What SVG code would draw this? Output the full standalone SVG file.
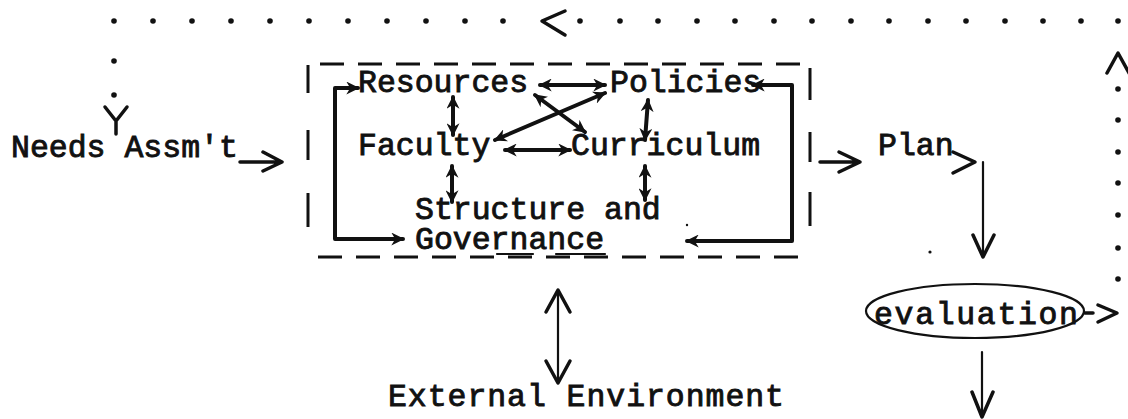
<svg xmlns="http://www.w3.org/2000/svg" width="1128" height="419" viewBox="0 0 1128 419">
  <style>
    .t { font-family: "Liberation Mono", "Courier New", monospace; font-size: 31.5px; fill: #111; stroke: #111; stroke-width: 0.9px; }
    .dot { fill: #111; }
    .box { stroke: #111; stroke-width: 3; fill: none; }
    .dash { stroke: #111; stroke-width: 3; fill: none; stroke-dasharray: 24 14; }
    .bold { stroke: #111; stroke-width: 4; fill: none; stroke-linecap: round; stroke-linejoin: round; }
    .thin { stroke: #111; stroke-width: 2.2; fill: none; stroke-linecap: round; stroke-linejoin: round; }
    .chev { stroke: #111; stroke-width: 3.5; fill: none; stroke-linecap: round; stroke-linejoin: round; }
  </style>
  <defs>
    <marker id="hd" viewBox="0 0 10 10" refX="9" refY="5" markerWidth="13" markerHeight="13" markerUnits="userSpaceOnUse" orient="auto-start-reverse">
      <path d="M0,0 L10,5 L0,10 L3,5 Z" fill="#111"/>
    </marker>
  </defs>

  <!-- dotted feedback loop from evaluation back to the needs assessment -->
  <g id="feedback">
    <g class="dot">
      <circle cx="114" cy="21" r="2.8"/><circle cx="153" cy="21" r="2.8"/><circle cx="192" cy="21" r="2.8"/>
      <circle cx="231" cy="21" r="2.8"/><circle cx="270" cy="21" r="2.8"/><circle cx="309" cy="21" r="2.8"/>
      <circle cx="348" cy="21" r="2.8"/><circle cx="387" cy="21" r="2.8"/><circle cx="426" cy="21" r="2.8"/>
      <circle cx="465" cy="21" r="2.8"/><circle cx="503" cy="21" r="2.8"/>
      <circle cx="580" cy="21" r="2.8"/><circle cx="620" cy="21" r="2.8"/><circle cx="658" cy="21" r="2.8"/>
      <circle cx="697" cy="21" r="2.8"/><circle cx="735" cy="21" r="2.8"/><circle cx="774" cy="21" r="2.8"/>
      <circle cx="812" cy="21" r="2.8"/><circle cx="851" cy="21" r="2.8"/><circle cx="889" cy="21" r="2.8"/>
      <circle cx="928" cy="21" r="2.8"/><circle cx="966" cy="21" r="2.8"/><circle cx="1005" cy="21" r="2.8"/>
      <circle cx="1043" cy="21" r="2.8"/><circle cx="1081" cy="21" r="2.8"/><circle cx="1118" cy="21" r="2.8"/>
      <circle cx="114" cy="61" r="2.8"/><circle cx="114" cy="95" r="2.8"/>
      <circle cx="1118" cy="89" r="2.8"/><circle cx="1118" cy="120" r="2.8"/><circle cx="1118" cy="152" r="2.8"/>
      <circle cx="1118" cy="183" r="2.8"/><circle cx="1118" cy="215" r="2.8"/><circle cx="1118" cy="248" r="2.8"/>
      <circle cx="1118" cy="279" r="2.8"/>
    </g>
    <path class="chev" d="M565,11 L542,21 L565,35"/>
    <path class="chev" d="M1107,73 L1118,53 L1129,73"/>
    <path class="chev" d="M105,107 L116,121 L127,107 M116,121 L116,134"/>
    <path class="chev" d="M1085,313 L1093,313 M1098,305 L1117,313 L1098,322"/>
  </g>

  <g id="needs">
    <text class="t" x="11" y="157">Needs Assm't</text>
  </g>

  <!-- dashed boundary of the core system -->
  <g id="system">
    <line class="dash" x1="320" y1="64" x2="803" y2="64"/>
    <line class="dash" x1="318" y1="257" x2="803" y2="257"/>
    <path class="box" d="M308,65 V93 M308,130 V160 M308,193 V227"/>
    <path class="box" d="M810,68 V100 M810,132 V162 M810,192 V226"/>
  </g>

  <g id="resources"><text class="t" x="358" y="92">Resources</text></g>
  <g id="policies"><text class="t" x="610" y="92">Policies</text></g>
  <g id="faculty"><text class="t" x="358" y="155">Faculty</text></g>
  <g id="curriculum"><text class="t" x="571" y="155">Curriculum</text></g>
  <g id="structure">
    <text class="t" x="415" y="219">Structure and<tspan x="415" y="249">Governance</tspan></text>
    <path class="thin" d="M497,254 H533 M556,254 H605"/>
  </g>
  <g id="plan"><text class="t" x="878" y="155">Plan</text></g>
  <g id="evaluation">
    <ellipse cx="975" cy="311" rx="109" ry="27" class="thin"/>
    <text class="t" x="874" y="324" textLength="204">evaluation</text>
  </g>
  <g id="external"><text class="t" x="388" y="406" textLength="396">External Environment</text></g>

  <g id="connectors">
    <!-- links inside the system -->
    <g class="bold" marker-start="url(#hd)" marker-end="url(#hd)">
      <line x1="540" y1="85" x2="605" y2="85"/>
      <line x1="535" y1="95" x2="585" y2="132"/>
      <line x1="495" y1="140" x2="605" y2="93"/>
      <line x1="453" y1="97" x2="453" y2="135"/>
      <line x1="648" y1="100" x2="645" y2="140"/>
      <line x1="505" y1="150" x2="570" y2="150"/>
      <line x1="452" y1="166" x2="452" y2="202"/>
      <line x1="645" y1="166" x2="645" y2="200"/>
      <path d="M358,88 L335,88 L335,239 L403,239"/>
      <path d="M753,85 L792,85 L792,241 L687,241"/>
    </g>
    <!-- flow outside the system -->
    <path class="chev" d="M240,162 H282 M263,152 L282,162 L263,171"/>
    <path class="chev" d="M820,162 H860 M839,152 L860,162 L839,172"/>
    <path class="chev" d="M953,152 L975,162 L953,173"/>
    <path class="thin" d="M983,162 V257"/>
    <path class="chev" d="M973,235 L983,257 L994,235"/>
    <path class="thin" d="M982,352 V417"/>
    <path class="chev" d="M972,392 L982,417 L993,392"/>
    <path class="thin" d="M558,291 V382"/>
    <path class="chev" d="M546,312 L558,290 L570,312 M546,361 L558,383 L570,361"/>
  </g>

  <g class="dot">
    <circle cx="930" cy="252" r="1.6"/>
    <circle cx="687" cy="225" r="1.2"/>
  </g>
</svg>
